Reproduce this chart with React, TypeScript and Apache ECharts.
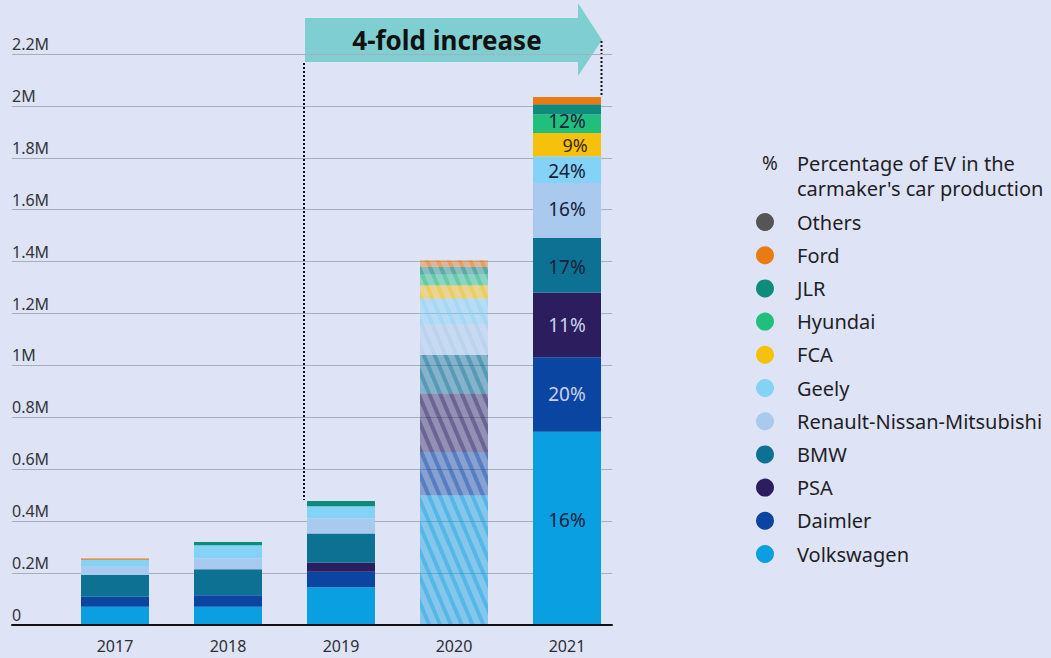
import React, { useEffect, useRef } from "react";
import * as echarts from "echarts";

const years = ["2017", "2018", "2019", "2020", "2021"];
const makers = [
  "Volkswagen",
  "Daimler",
  "PSA",
  "BMW",
  "Renault-Nissan-Mitsubishi",
  "Geely",
  "FCA",
  "Hyundai",
  "JLR",
  "Ford",
  "Others",
];
const makerColors = [
  "#0a9fe0",
  "#0b45a2",
  "#2c1d5e",
  "#0d7193",
  "#a9caee",
  "#84d2f5",
  "#f6c10d",
  "#20bf7e",
  "#0f8b7b",
  "#ea7a12",
  "#555555",
];

// values in millions of EVs
const volkswagen = [0.07, 0.07, 0.145, 0.5, 0.745];
const daimler = [0.039, 0.045, 0.06, 0.167, 0.287];
const psa = [0, 0, 0.035, 0.225, 0.249];
const bmw = [0.084, 0.1, 0.113, 0.148, 0.21];
const renaultNissanMitsubishi = [0.031, 0.041, 0.058, 0.12, 0.212];
const geely = [0.027, 0.051, 0.047, 0.098, 0.103];
const fca = [0, 0, 0, 0.051, 0.09];
const hyundai = [0, 0, 0, 0.042, 0.071];
const jlr = [0, 0.013, 0.02, 0.028, 0.039];
const ford = [0.005, 0, 0, 0.026, 0.028];
const others = [0, 0, 0, 0, 0];
const seriesValues = [
  volkswagen,
  daimler,
  psa,
  bmw,
  renaultNissanMitsubishi,
  geely,
  fca,
  hyundai,
  jlr,
  ford,
  others,
];

// % of EV in the carmaker's car production (2021)
const pct2021 = [16, 20, 11, 17, 16, 24, 9, 12, null, null, null];
const pctLabelColors = ["#18213c", "#c9d2ec", "#c9d2ec", "#18213c", "#18213c", "#18213c", "#3a2a10", "#18213c"];
const pctLabelOffsets = [[0, -8], [0, 0], [0, 0], [0, 2], [0, -2], [0, 1], [8, 0], [0, -3]];
const pctLabelSizes = [19, 19, 19, 19, 19, 19, 18, 19];

const hatchedYear = "2020";
const labeledYear = "2021";

const yMax = 2.2;
const yInterval = 0.2;

const FONT = "'Noto Sans', Lato, sans-serif";
const BG = "#dee4f5";
const TEXT = "#1e1e28";

function rgba(hex: string, a: number) {
  const n = parseInt(hex.slice(1), 16);
  return `rgba(${(n >> 16) & 255},${(n >> 8) & 255},${n & 255},${a})`;
}

export default function App() {
  const ref = useRef<HTMLDivElement>(null);

  useEffect(() => {
    document.body.style.margin = "0";
    document.body.style.background = BG;
    const chart = echarts.init(ref.current!, undefined, { renderer: "svg" });

    const series = makers.map((name, si) => {
      const color = makerColors[si];
      return {
        name,
        type: "bar",
        stack: "total",
        xAxisIndex: 1,
        yAxisIndex: 1,
        barWidth: 68,
        itemStyle: { color },
        emphasis: { disabled: true },
        data: seriesValues[si].map((v, yi) => {
          const item: any = { value: v };
          if (years[yi] === hatchedYear) {
            item.itemStyle = {
              color: rgba(color, 0.42),
              decal: {
                symbol: "rect",
                symbolSize: 1,
                dashArrayX: [4, 6],
                dashArrayY: [1, 0],
                rotation: -0.4,
                color: rgba(color, 0.38),
              },
            };
          }
          if (years[yi] === labeledYear && pct2021[si] != null) {
            item.label = {
              show: true,
              position: "inside",
              formatter: `${pct2021[si]}%`,
              color: pctLabelColors[si],
              fontSize: pctLabelSizes[si],
              lineHeight: 16,
              fontFamily: FONT,
              offset: pctLabelOffsets[si],
            };
          }
          return item;
        }),
      };
    });

    chart.setOption({
      animation: false,
      backgroundColor: BG,
      textStyle: { fontFamily: FONT },
      grid: [
        { left: 12, right: 439, top: 54, bottom: 33 },
        { left: 58.5, right: 427.5, top: 54, bottom: 33 },
      ],
      xAxis: [
        {
          gridIndex: 0,
          type: "value",
          min: 0,
          max: 1,
          z: 10,
          axisLine: { show: true, onZero: false, lineStyle: { color: "#111", width: 2 } },
          axisTick: { show: false },
          axisLabel: { show: false },
          splitLine: { show: false },
        },
        {
          gridIndex: 1,
          type: "category",
          data: years,
          axisLine: { show: false },
          axisTick: { show: false },
          axisLabel: { color: "#2e2e36", fontSize: 16, margin: 13, fontFamily: FONT },
        },
      ],
      yAxis: [
        {
          gridIndex: 0,
          type: "value",
          min: 0,
          max: yMax,
          interval: yInterval,
          axisLine: { show: false },
          axisTick: { show: false },
          splitLine: { lineStyle: { color: "#a9aebd", width: 1 } },
          axisLabel: {
            inside: true,
            margin: 0,
            verticalAlign: "bottom",
            padding: [0, 0, 2, 0],
            color: "#34343c",
            fontSize: 16,
            fontFamily: FONT,
            formatter: (v: number) => (v === 0 ? "0" : `${parseFloat(v.toFixed(1))}M`),
          },
        },
        { gridIndex: 1, type: "value", min: 0, max: yMax, interval: yInterval, show: false },
      ],
      legend: {
        orient: "vertical",
        left: 751,
        top: 207,
        icon: "circle",
        itemWidth: 54,
        itemHeight: 18,
        itemGap: 13.2,
        selectedMode: false,
        data: [...makers].reverse(),
        textStyle: { color: TEXT, fontSize: 20, lineHeight: 18, fontFamily: FONT },
      },
      graphic: [
        {
          type: "polygon",
          shape: {
            points: [
              [305, 18],
              [578, 18],
              [578, 3],
              [602, 40],
              [578, 76],
              [578, 62],
              [305, 62],
            ],
          },
          style: { fill: "#7fcfd2" },
        },
        {
          type: "text",
          x: 447,
          y: 40,
          style: {
            text: "4-fold increase",
            fill: "#111",
            font: `bold 26px ${FONT}`,
            align: "center",
            verticalAlign: "middle",
          },
        },
        {
          type: "line",
          shape: { x1: 304, y1: 63, x2: 304, y2: 500 },
          style: { stroke: "#111", lineWidth: 2, lineDash: [2, 2] },
        },
        {
          type: "line",
          shape: { x1: 601.5, y1: 41, x2: 601.5, y2: 97 },
          style: { stroke: "#111", lineWidth: 2, lineDash: [2, 2] },
        },
        {
          type: "text",
          x: 762,
          y: 163,
          style: { text: "%", fill: TEXT, font: `19px ${FONT}`, verticalAlign: "middle" },
        },
        {
          type: "text",
          x: 797,
          y: 163,
          style: { text: "Percentage of EV in the", fill: TEXT, font: `20px ${FONT}`, verticalAlign: "middle" },
        },
        {
          type: "text",
          x: 797,
          y: 188,
          style: { text: "carmaker's car production", fill: TEXT, font: `20px ${FONT}`, verticalAlign: "middle" },
        },
      ],
      series,
    });

    return () => chart.dispose();
  }, []);

  return <div ref={ref} style={{ width: 1051, height: 658 }} />;
}
